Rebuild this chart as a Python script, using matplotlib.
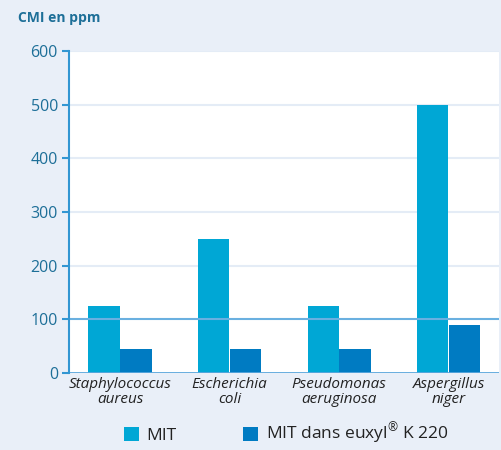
import matplotlib
matplotlib.use("Agg")
import matplotlib.pyplot as plt
import numpy as np

# data
categories = ["Staphylococcus\naureus", "Escherichia\ncoli", "Pseudomonas\naeruginosa", "Aspergillus\nniger"]
mit = [125, 250, 125, 500]
mit_euxyl = [45, 45, 45, 90]
series_names = ["MIT", "MIT dans euxyl$^{\u00ae}$ K 220"]
yticks = [0, 100, 200, 300, 400, 500, 600]

plt.rcParams['font.family'] = ['Open Sans', 'DejaVu Sans']
plt.rcParams['mathtext.fontset'] = 'custom'
plt.rcParams['mathtext.rm'] = 'Open Sans'

bg = "#e9eff8"
c_mit = "#00a7d5"
c_eux = "#007bc2"
tick_col = "#1d6f98"

fig = plt.figure(figsize=(5.02, 4.5), dpi=100, facecolor=bg)
ax = fig.add_axes([69 / 502, 1 - 373 / 450, 430 / 502, 322 / 450])
ax.set_facecolor("white")

x = np.arange(len(categories))
w = 0.285
ax.bar(x - w / 2 - 0.003, mit, w, color=c_mit, label=series_names[0], zorder=3)
ax.bar(x + w / 2 + 0.003, mit_euxyl, w, color=c_eux, label=series_names[1], zorder=3)

ax.set_xlim(-0.466, 3.46)
ax.set_ylim(0, 600)
ax.set_yticks(yticks)
for t in yticks[2:]:
    ax.axhline(t, color="#e4ecf6", lw=1.5, zorder=1)
ax.axhline(100, color="#6ab0e0", lw=1.5, zorder=4)
ax.axhline(0, color="#5aa6dc", lw=2, zorder=4)

for s in ["top", "right", "bottom"]:
    ax.spines[s].set_visible(False)
ax.spines["left"].set_color("#3296d2")
ax.spines["left"].set_linewidth(1.5)
ax.spines["left"].set_zorder(5)

ax.set_xticks(x)
ax.set_xticklabels(categories, fontstyle="italic", fontsize=11, color="#222222", linespacing=1.0)
ax.tick_params(axis="x", length=0, pad=3)
ax.tick_params(axis="y", colors="#3296d2", labelcolor=tick_col, labelsize=11.5, length=5, width=1.5, pad=3)

fig.text(18 / 502, 1 - 18 / 450, "CMI en ppm", fontsize=10, fontweight="bold", color=tick_col, va="center")

fig.legend(loc="lower left", bbox_to_anchor=(121 / 502, 0.0), ncol=2, frameon=False,
           fontsize=12.5, handlelength=0.86, handleheight=0.86, handletextpad=0.46,
           columnspacing=3.85, labelcolor="#222222", borderaxespad=0, borderpad=0.15)

fig.savefig("out.png", dpi=100, facecolor=bg)
